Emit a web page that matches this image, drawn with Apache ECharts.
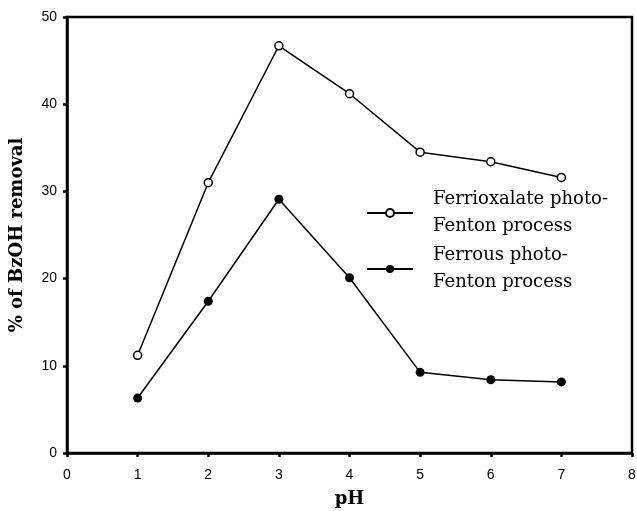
<!DOCTYPE html>
<html>
<head>
<meta charset="utf-8">
<script src="https://cdn.jsdelivr.net/npm/echarts@6/dist/echarts.min.js"></script>
<style>
  html, body { margin: 0; padding: 0; background: #fff; }
  #chart { width: 637px; height: 511px; }
</style>
</head>
<body>
<div id="chart"></div>
<script>
// pH values and % BzOH removal
const phValues = [1, 2, 3, 4, 5, 6, 7];
const ferrioxalate = [11.2, 31.0, 46.7, 41.2, 34.5, 33.4, 31.6];
const ferrous = [6.3, 17.4, 29.1, 20.1, 9.25, 8.4, 8.15];

const seriesNames = ['Ferrioxalate photo-Fenton process', 'Ferrous photo-Fenton process'];
const legendLabels = {
  'Ferrioxalate photo-Fenton process': 'Ferrioxalate photo-\nFenton process',
  'Ferrous photo-Fenton process': 'Ferrous photo-\nFenton process',
};

const chart = echarts.init(document.getElementById('chart'));

const toPairs = (ys) => phValues.map((x, i) => [x, ys[i]]);

const tickLabel = { color: '#000', fontFamily: 'Liberation Sans', fontSize: 14 };

chart.setOption({
  backgroundColor: '#fff',
  animation: false,
  grid: {
    left: 67, right: 5, top: 17, height: 436,
    outerBoundsMode: 'none',
    show: true, borderColor: '#000', borderWidth: 2.5,
  },
  legend: {
    orient: 'vertical',
    left: 366, top: 186,
    padding: 0,
    itemWidth: 46, itemHeight: 10,
    itemGap: 2,
    data: seriesNames,
    formatter: (name) => legendLabels[name],
    textStyle: {
      fontFamily: 'DejaVu Serif', fontSize: 18, color: '#000',
      lineHeight: 27, padding: [0, 0, 0, 15],
    },
  },
  xAxis: {
    type: 'value', min: 0, max: 8, interval: 1,
    name: 'pH', nameLocation: 'middle', nameGap: 37,
    nameTextStyle: { fontFamily: 'DejaVu Serif', fontWeight: 'bold', fontSize: 18, color: '#000' },
    axisLine: { lineStyle: { color: '#000', width: 2.5 } },
    axisTick: { length: 4, lineStyle: { color: '#000', width: 2.5 } },
    axisLabel: { ...tickLabel, margin: 15 },
    splitLine: { show: false },
  },
  yAxis: {
    type: 'value', min: 0, max: 50, interval: 10,
    name: '% of BzOH removal', nameLocation: 'middle', nameGap: 41,
    nameTextStyle: { fontFamily: 'DejaVu Serif', fontWeight: 'bold', fontSize: 18, color: '#000' },
    axisLine: { lineStyle: { color: '#000', width: 2.5 } },
    axisTick: { length: 4, lineStyle: { color: '#000', width: 2.5 } },
    axisLabel: { ...tickLabel, margin: 10 },
    splitLine: { show: false },
  },
  series: [
    {
      name: seriesNames[0],
      type: 'line',
      data: toPairs(ferrioxalate),
      symbol: 'circle', symbolSize: 8,
      lineStyle: { color: '#000', width: 1.5 },
      itemStyle: { color: '#fff', borderColor: '#000', borderWidth: 1.5 },
    },
    {
      name: seriesNames[1],
      type: 'line',
      data: toPairs(ferrous),
      symbol: 'circle', symbolSize: 9,
      lineStyle: { color: '#000', width: 1.5 },
      itemStyle: { color: '#000', borderColor: '#000', borderWidth: 0 },
    },
  ],
});
</script>
</body>
</html>
